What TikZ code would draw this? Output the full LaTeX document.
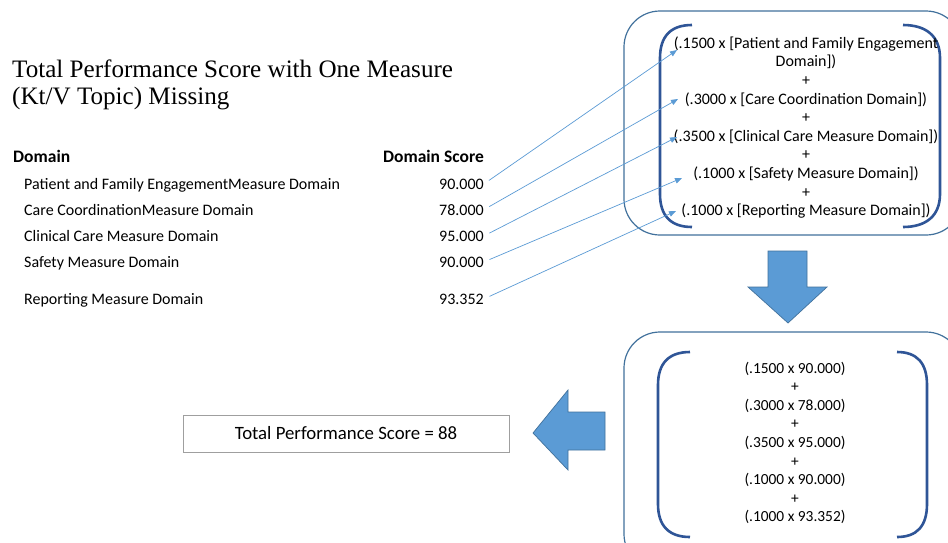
\documentclass[tikz,border=0pt]{standalone}
\usepackage{fontspec}
\setmainfont{Carlito}
\newfontfamily\titlefont{Liberation Serif}
\usetikzlibrary{arrows.meta}
\definecolor{arrowblue}{HTML}{5B9BD5}
\definecolor{arrowedge}{HTML}{41719C}
\definecolor{boxblue}{HTML}{41719C}
\definecolor{bracketblue}{HTML}{2F5597}
\definecolor{connblue}{HTML}{5B9BD5}
\tikzset{
  titletext/.style={anchor=base west, inner sep=0pt, font=\titlefont\fontsize{25.1}{26}\selectfont},
  headtext/.style={inner sep=0pt, font=\bfseries\fontsize{17.5}{20}\selectfont},
  rowtext/.style={anchor=base west, inner sep=0pt, font=\fontsize{16}{19}\selectfont},
  scoretext/.style={anchor=base east, inner sep=0pt, font=\fontsize{16}{19}\selectfont},
  formula/.style={align=center, inner sep=0pt, font=\fontsize{16}{18.6}\selectfont},
  formulab/.style={align=center, inner sep=0pt, font=\fontsize{15.4}{18.6}\selectfont},
  roundbox/.style={draw=boxblue, line width=1.2pt, rounded corners=36pt},
  bracket/.style={draw=bracketblue, line width=2.6pt},
  bigarrow/.style={fill=arrowblue, draw=arrowedge, line width=0.7pt, line join=miter},
  conn/.style={draw=connblue, line width=0.7pt, shorten <=6pt, -{Triangle[length=7pt,width=5.5pt]}},
  totalbox/.style={draw=gray!75, line width=0.8pt, minimum width=326pt, minimum height=37pt, inner sep=0pt, font=\fontsize{18.8}{21}\selectfont}
}
\begin{document}
\begin{tikzpicture}[x=1pt,y=-1pt]
\useasboundingbox (0,0) rectangle (948,542);
\clip (0,0) rectangle (948,542);
\fill[white] (0,0) rectangle (948,542);

% title
\node[titletext] (title1) at (12,77) {Total Performance Score with One Measure};
\node[titletext] (title2) at (12,104) {(Kt/V Topic) Missing};

% table
\node[headtext, anchor=base west] (hdom) at (13,162) {Domain};
\node[headtext, anchor=base east] (hscore) at (484,162) {Domain Score};
\node[rowtext] (d1) at (24,189) {Patient and Family EngagementMeasure Domain};
\node[rowtext] (d2) at (24,215) {Care CoordinationMeasure Domain};
\node[rowtext] (d3) at (24,241) {Clinical Care Measure Domain};
\node[rowtext] (d4) at (24,267) {Safety Measure Domain};
\node[rowtext] (d5) at (24,304) {Reporting Measure Domain};
\node[scoretext] (s1) at (484,189) {90.000};
\node[scoretext] (s2) at (484,215) {78.000};
\node[scoretext] (s3) at (484,241) {95.000};
\node[scoretext] (s4) at (484,267) {90.000};
\node[scoretext] (s5) at (484,304) {93.352};

% top formula box
\draw[roundbox] (624,11) rectangle (962,235);
\draw[bracket] (692,25) .. controls (671,25) and (660,36) .. (660,58) -- (660,194) .. controls (660,216) and (671,227) .. (692,227);
\draw[bracket] (903,25) .. controls (926,25) and (940,36) .. (940,58) -- (940,194) .. controls (940,216) and (926,227) .. (903,227);
\node[formula] (f1) at (806,127.5) {(.1500 x [Patient and Family Engagement\\Domain])\\+\\(.3000 x [Care Coordination Domain])\\+\\(.3500 x [Clinical Care Measure Domain])\\+\\(.1000 x [Safety Measure Domain])\\+\\(.1000 x [Reporting Measure Domain])};

% arrow targets
\coordinate (t1) at (677,50);
\coordinate (t2) at (678,99);
\coordinate (t3) at (677,137);
\coordinate (t4) at (682,178);
\coordinate (t5) at (676,211);
\draw[conn] (s1.east) -- (t1);
\draw[conn] (s2.east) -- (t2);
\draw[conn] (s3.east) -- (t3);
\draw[conn] (s4.east) -- (t4);
\draw[conn] (s5.east) -- (t5);

% down arrow
\draw[bigarrow] (768,251) -- (807,251) -- (807,287) -- (827,287) -- (788,323) -- (748,287) -- (768,287) -- cycle;

% bottom formula box
\draw[roundbox] (624,332) rectangle (962,570);
\draw[bracket] (690,352) .. controls (669,352) and (658,363) .. (658,385) -- (658,504) .. controls (658,526) and (669,537) .. (690,537);
\draw[bracket] (897,352) .. controls (917,352) and (927,363) .. (927,385) -- (927,504) .. controls (927,526) and (917,537) .. (897,537);
\node[formulab] (f2) at (795,443) {(.1500 x 90.000)\\+\\(.3000 x 78.000)\\+\\(.3500 x 95.000)\\+\\(.1000 x 90.000)\\+\\(.1000 x 93.352)};

% left arrow
\draw[bigarrow] (605,412) -- (568,412) -- (568,390) -- (533,433) -- (568,470) -- (568,450) -- (605,450) -- cycle;

% total
\node[totalbox] (total) at (346,433.5) {Total Performance Score = 88};
\end{tikzpicture}
\end{document}
